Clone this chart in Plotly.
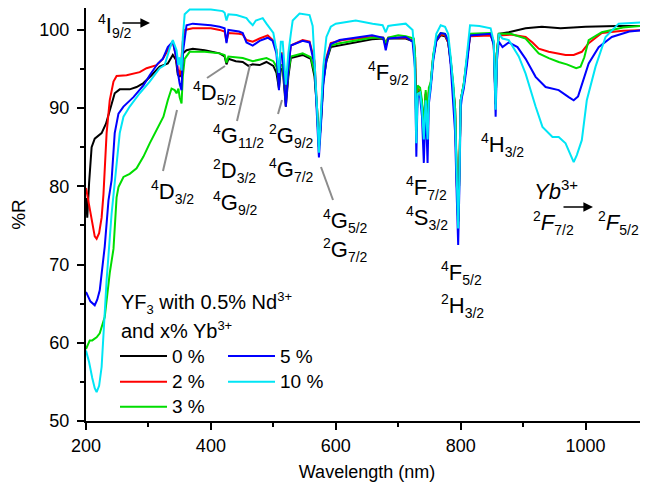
import plotly.graph_objects as go

# ---------------- data (wavelength nm, %R) ----------------
labels = ["0 %", "2 %", "3 %", "5 %", "10 %"]
colors = ["#000000", "#ff0000", "#00dd00", "#0000ff", "#00e5f5"]

yb0 = [(200, 78.5), (202, 76.0), (205, 80.5), (209, 85.0), (214, 86.1), (225, 86.8), (232, 88.0), (238, 89.7),
       (246, 91.9), (254, 92.4), (270, 92.4), (281, 92.7), (292, 93.2), (305, 94.2), (318, 95.3), (331, 95.7),
       (339, 96.8), (344, 96.2), (347, 94.3), (350, 94.0), (352, 94.5), (355, 97.0), (361, 97.4), (371, 97.6),
       (390, 97.4), (414, 97.0), (422, 96.6), (425, 95.6), (428, 96.3), (440, 96.0), (451, 95.9), (460, 95.4),
       (467, 95.6), (478, 95.5), (489, 95.9), (500, 95.4), (505, 94.5), (509, 92.5), (512, 95.0), (515, 95.0),
       (520, 90.2), (524, 94.0), (528, 96.4), (547, 96.8), (560, 96.3), (566, 94.0), (570, 90.0), (573, 85.0),
       (576, 88.0), (580, 93.5), (585, 96.0), (592, 97.8), (606, 98.0), (630, 98.4), (658, 98.8), (676, 98.9),
       (680, 98.0), (684, 98.9), (712, 98.9), (725, 98.5), (727, 96.5), (729, 87.0), (731, 92.3), (735, 92.0),
       (738, 90.5), (741, 87.5), (744, 91.8), (747, 88.0), (749, 92.0), (752, 93.0), (756, 96.5), (761, 98.6),
       (768, 99.3), (775, 99.2), (780, 98.4), (784, 96.0), (788, 93.0), (791, 90.0), (794, 80.0), (796, 75.5),
       (798, 82.0), (800, 91.0), (805, 93.0), (810, 96.0), (815, 99.3), (848, 99.4), (853, 98.3), (856, 90.5),
       (858, 97.0), (861, 99.5), (877, 99.7), (904, 100.2), (930, 100.4), (960, 100.2), (1000, 100.4),
       (1050, 100.5), (1100, 100.5)]

yb2 = [(200, 79.8), (205, 77.5), (210, 75.0), (214, 73.6), (217, 73.3), (221, 74.0), (225, 76.0), (228, 79.0),
       (233, 86.8), (238, 91.0), (244, 93.4), (249, 94.1), (265, 94.2), (286, 94.6), (297, 95.1), (313, 95.5),
       (323, 96.3), (334, 97.8), (339, 98.5), (343, 97.0), (347, 95.0), (350, 94.2), (352, 95.5), (355, 98.5),
       (358, 100.0), (371, 100.2), (400, 100.2), (414, 100.0), (422, 99.8), (425, 98.5), (428, 99.6), (445, 99.5),
       (451, 99.4), (457, 98.7), (467, 98.5), (478, 98.9), (491, 99.3), (499, 98.7), (505, 97.5), (509, 93.6),
       (512, 97.0), (515, 97.0), (520, 91.2), (524, 95.5), (528, 98.0), (547, 98.7), (558, 98.5), (566, 96.0),
       (570, 90.5), (573, 85.0), (576, 88.5), (580, 94.0), (585, 96.5), (592, 98.3), (611, 98.7), (658, 99.1),
       (676, 99.0), (680, 98.4), (684, 99.0), (712, 99.0), (725, 98.6), (727, 96.5), (729, 87.0), (731, 92.5),
       (735, 92.2), (738, 90.5), (741, 87.0), (744, 92.0), (747, 87.5), (749, 92.2), (752, 93.0), (756, 96.5),
       (761, 98.7), (768, 99.4), (775, 99.3), (780, 98.4), (784, 96.0), (788, 93.0), (791, 90.0), (794, 80.0),
       (796, 75.5), (798, 82.0), (800, 91.0), (805, 93.0), (810, 96.0), (815, 99.2), (848, 99.3), (853, 98.3),
       (856, 90.5), (858, 97.0), (861, 99.3), (880, 99.4), (904, 99.1), (915, 98.4), (925, 97.6), (941, 97.2),
       (968, 96.8), (981, 96.8), (994, 97.2), (1005, 98.3), (1026, 99.6), (1060, 99.9), (1100, 100.0)]

yb3 = [(200, 59.2), (206, 60.3), (210, 60.3), (217, 60.7), (222, 61.2), (230, 63.3), (238, 68.9), (244, 72.0),
       (249, 78.6), (252, 79.9), (260, 81.2), (270, 81.6), (281, 82.3), (292, 83.8), (302, 85.5), (313, 87.2),
       (324, 88.9), (331, 91.0), (337, 92.5), (342, 92.3), (345, 91.9), (348, 92.5), (350, 91.4), (353, 90.6),
       (355, 94.0), (358, 96.3), (366, 97.2), (390, 97.2), (414, 97.0), (422, 96.8), (425, 95.8), (428, 96.6),
       (451, 96.4), (467, 96.0), (489, 96.4), (500, 96.0), (505, 95.3), (509, 93.1), (512, 95.5), (515, 95.5),
       (520, 91.0), (524, 94.5), (528, 96.6), (547, 97.0), (560, 96.5), (566, 94.5), (570, 90.0), (573, 85.0),
       (576, 88.0), (580, 93.5), (585, 96.2), (592, 98.0), (606, 98.3), (658, 99.0), (676, 99.0), (680, 98.3),
       (684, 99.0), (700, 99.3), (712, 99.2), (725, 98.9), (727, 96.8), (729, 87.0), (731, 92.9), (735, 92.6),
       (738, 91.0), (741, 87.5), (744, 92.3), (747, 88.0), (749, 92.6), (752, 93.3), (756, 96.8), (761, 98.9),
       (768, 99.6), (775, 99.5), (780, 98.6), (784, 96.2), (788, 93.2), (791, 90.0), (794, 80.0), (796, 75.5),
       (798, 82.0), (800, 91.0), (805, 93.2), (810, 96.2), (815, 99.5), (848, 99.6), (853, 98.5), (856, 90.5),
       (858, 97.0), (861, 99.5), (880, 99.5), (904, 98.9), (925, 97.0), (941, 96.4), (957, 95.9), (970, 95.6),
       (985, 95.1), (992, 95.3), (998, 96.5), (1005, 98.7), (1026, 99.7), (1060, 100.3), (1100, 100.6)]

yb5 = [(200, 66.5), (203, 66.0), (207, 65.3), (214, 64.8), (218, 65.5), (222, 66.7), (230, 72.3), (236, 78.2),
       (241, 80.8), (246, 86.8), (252, 89.3), (260, 90.2), (276, 91.4), (292, 92.9), (302, 94.2), (315, 95.7),
       (323, 96.3), (331, 97.8), (339, 98.5), (345, 96.3), (347, 94.6), (350, 93.1), (353, 92.3), (355, 97.0),
       (361, 100.6), (371, 100.8), (400, 100.6), (414, 100.4), (422, 100.2), (425, 98.3), (428, 100.0),
       (445, 99.8), (451, 99.6), (457, 98.4), (467, 98.0), (478, 98.6), (491, 99.0), (499, 98.6), (505, 97.0),
       (509, 92.3), (512, 97.0), (515, 96.5), (520, 90.2), (524, 95.0), (528, 98.0), (547, 98.6), (558, 98.4),
       (566, 95.5), (570, 89.5), (573, 83.7), (576, 87.5), (580, 93.0), (585, 96.2), (592, 98.2), (606, 98.7),
       (658, 99.3), (676, 99.0), (680, 97.4), (684, 98.9), (712, 99.1), (723, 98.5), (727, 95.0), (729, 83.8),
       (731, 91.5), (735, 91.5), (738, 89.0), (741, 83.0), (744, 90.5), (747, 83.0), (749, 90.5), (752, 92.5),
       (756, 96.0), (761, 98.6), (768, 99.6), (775, 99.5), (780, 98.6), (784, 95.5), (788, 91.0), (791, 87.0),
       (794, 78.0), (796, 72.5), (798, 80.0), (800, 90.0), (802, 91.4), (805, 92.5), (810, 95.5), (815, 99.3),
       (848, 99.5), (853, 98.0), (856, 88.9), (858, 96.0), (861, 98.5), (867, 97.8), (877, 98.4), (891, 97.8),
       (904, 96.3), (920, 94.0), (936, 92.7), (957, 92.3), (973, 91.4), (981, 91.0), (988, 91.5), (994, 93.1),
       (1005, 95.7), (1021, 97.8), (1042, 99.1), (1070, 99.8), (1100, 100.0)]

yb10 = [(200, 59.0), (205, 57.5), (210, 55.5), (214, 54.2), (217, 53.7), (221, 54.5), (225, 56.9), (233, 68.0),
        (241, 76.5), (246, 80.8), (249, 82.5), (254, 86.8), (260, 88.9), (270, 90.2), (286, 91.9), (302, 93.4),
        (318, 95.1), (326, 95.5), (334, 97.6), (339, 98.7), (345, 97.4), (348, 95.5), (350, 96.5), (353, 94.8),
        (355, 99.0), (358, 102.0), (366, 102.6), (400, 102.6), (419, 102.4), (422, 102.2), (425, 101.2),
        (428, 102.0), (441, 101.9), (457, 101.5), (462, 101.0), (467, 100.6), (472, 101.2), (483, 101.5),
        (489, 100.8), (494, 100.2), (500, 99.6), (505, 97.4), (509, 94.5), (512, 98.5), (515, 98.5), (520, 93.0),
        (524, 97.0), (528, 99.5), (531, 101.2), (542, 102.1), (558, 101.9), (563, 100.5), (567, 95.3),
        (570, 90.0), (573, 84.3), (576, 89.0), (580, 95.3), (585, 99.1), (592, 100.4), (600, 100.8),
        (616, 101.0), (632, 101.2), (659, 100.8), (675, 100.6), (680, 99.7), (684, 100.5), (691, 100.6),
        (712, 100.8), (723, 100.0), (726, 97.0), (729, 85.5), (731, 91.8), (735, 92.0), (738, 90.0), (741, 86.0),
        (744, 91.0), (747, 86.0), (749, 91.0), (752, 93.0), (756, 96.5), (761, 99.5), (768, 100.6), (775, 100.4),
        (780, 99.5), (784, 96.5), (788, 93.0), (791, 89.0), (794, 79.0), (796, 74.6), (798, 81.0), (800, 91.0),
        (805, 93.0), (810, 96.5), (815, 100.6), (830, 100.5), (848, 100.2), (853, 98.5), (856, 89.8),
        (858, 96.5), (861, 99.5), (867, 98.9), (877, 98.7), (893, 96.6), (904, 94.4), (920, 90.2), (931, 87.6),
        (947, 86.3), (957, 86.3), (968, 85.5), (976, 84.0), (981, 83.1), (986, 84.0), (994, 85.9), (1002, 91.0),
        (1016, 95.3), (1032, 99.1), (1053, 100.8), (1100, 101.0)]

series = [yb0, yb2, yb3, yb5, yb10]

x_ticks = [200, 400, 600, 800, 1000]
y_ticks = [50, 60, 70, 80, 90, 100]

# ---------------- figure ----------------
FONT = "Liberation Sans, Arial, sans-serif"
OFF = 8                      # page body margin of the html page
W, H = 640, 476              # figure size (page 648x492 minus body offset)
L, R, T, B = 78, 0, 0, 63
PW, PH = W - L - R, H - T - B


def P(xp, yp):
    """position on the 648x492 page -> paper coords"""
    return (xp - OFF - L) / PW, (H - B - (yp - OFF)) / PH


fig = go.Figure()
for name, data, col in zip(labels, series, colors):
    fig.add_trace(go.Scatter(x=[p[0] for p in data], y=[p[1] for p in data], mode="lines",
                             name=name, line=dict(color=col, width=2), showlegend=False))

axis_common = dict(showline=True, linewidth=2, linecolor="black", ticks="outside", tickwidth=2,
                   ticklen=7, tickcolor="black", showgrid=False, zeroline=False, automargin=False,
                   tickfont=dict(family=FONT, size=18, color="black"))

fig.update_layout(
    width=W, height=H, margin=dict(l=L, r=R, t=T, b=B),
    paper_bgcolor="white", plot_bgcolor="white",
    font=dict(family=FONT, color="black"),
    xaxis=dict(range=[200, 1100], tickvals=x_ticks, **axis_common,
               minor=dict(dtick=100, tick0=200, ticks="outside", ticklen=4, tickwidth=2, tickcolor="black"),
               title=dict(text="Wavelength (nm)", font=dict(family=FONT, size=18), standoff=11)),
    yaxis=dict(range=[50, 102.8], tickvals=y_ticks, **axis_common, ticklabelstandoff=4,
               minor=dict(dtick=5, tick0=50, ticks="outside", ticklen=4, tickwidth=2, tickcolor="black"),
               title=dict(text="%R", font=dict(family=FONT, size=19), standoff=14)),
)

annotations = []
shapes = []


def term(sup, main, sub, italic=False, small=14):
    m = f"<i>{main}</i>" if italic else main
    s = f'<sup><span style="font-size:{small}px">{sup}</span></sup>' if sup else ""
    b = f'<sub><span style="font-size:{small}px">{sub}</span></sub>' if sub else ""
    return s + m + b


def lab(text, xp, yp, size=22, anchor="left"):
    x, y = P(xp, yp)
    annotations.append(dict(x=x, y=y, xref="paper", yref="paper", text=text, showarrow=False,
                            xanchor=anchor, yanchor="middle", font=dict(family=FONT, size=size, color="black")))


def gline(x0, y0, x1, y1, color="#8c8c8c", width=2):
    a, b = P(x0, y0)
    c, d = P(x1, y1)
    shapes.append(dict(type="line", xref="paper", yref="paper", x0=a, y0=b, x1=c, y1=d,
                       line=dict(color=color, width=width)))


def arrow(x0, y0, x1, y1):
    hx, hy = P(x1, y1)
    annotations.append(dict(x=hx, y=hy, xref="paper", yref="paper", ax=x0 - x1, ay=y0 - y1, text="",
                            showarrow=True, arrowhead=2, arrowsize=1.2, arrowwidth=1.6, arrowcolor="black"))


# spectroscopic term labels
lab(term("4", "I", "9/2"), 96, 26)
arrow(121, 23, 150, 23)
lab(term("4", "D", "3/2"), 149, 192)
gline(163, 171, 177, 110)
lab(term("4", "D", "5/2"), 191, 93)
gline(207, 78, 225, 66)
lab(term("4", "G", "11/2"), 211, 136)
gline(237, 121, 250, 65)
lab(term("2", "D", "3/2"), 211, 171)
lab(term("4", "G", "9/2"), 211, 203)
lab(term("2", "G", "9/2"), 267, 136)
gline(278, 114, 282, 100)
lab(term("4", "G", "7/2"), 267, 170)
lab(term("4", "G", "5/2"), 321, 221)
gline(321, 167, 333, 200)
lab(term("2", "G", "7/2"), 321, 250)
lab(term("4", "F", "9/2"), 366, 73)
lab(term("4", "F", "7/2"), 404, 188)
lab(term("4", "S", "3/2"), 404, 218)
lab(term("4", "F", "5/2"), 439, 273)
lab(term("2", "H", "3/2"), 439, 306)
lab(term("4", "H", "3/2"), 479, 145)
lab('<i>Yb</i><sup><span style="font-size:15px">3+</span></sup>', 532, 190)
lab(term("2", "F", "7/2", italic=True), 531, 223)
arrow(562, 207, 593, 207)
lab(term("2", "F", "5/2", italic=True), 596, 223)

# legend (title + two columns)
lab('YF<sub><span style="font-size:13px">3</span></sub> with 0.5% Nd<sup><span style="font-size:13px">3+</span></sup>',
    119, 303, size=20)
lab('and x% Yb<sup><span style="font-size:13px">3+</span></sup>', 119, 330, size=20)
leg_pos = [(120, 356), (120, 381.7), (120, 406.7), (228, 356), (228, 381.7)]
for name, col, (xp, yp) in zip(labels, colors, leg_pos):
    gline(xp, yp, xp + 47, yp, color=col, width=2)
    lab(name, xp + 50, yp, size=19)

fig.update_layout(annotations=annotations, shapes=shapes)
fig.write_html("out.html")
